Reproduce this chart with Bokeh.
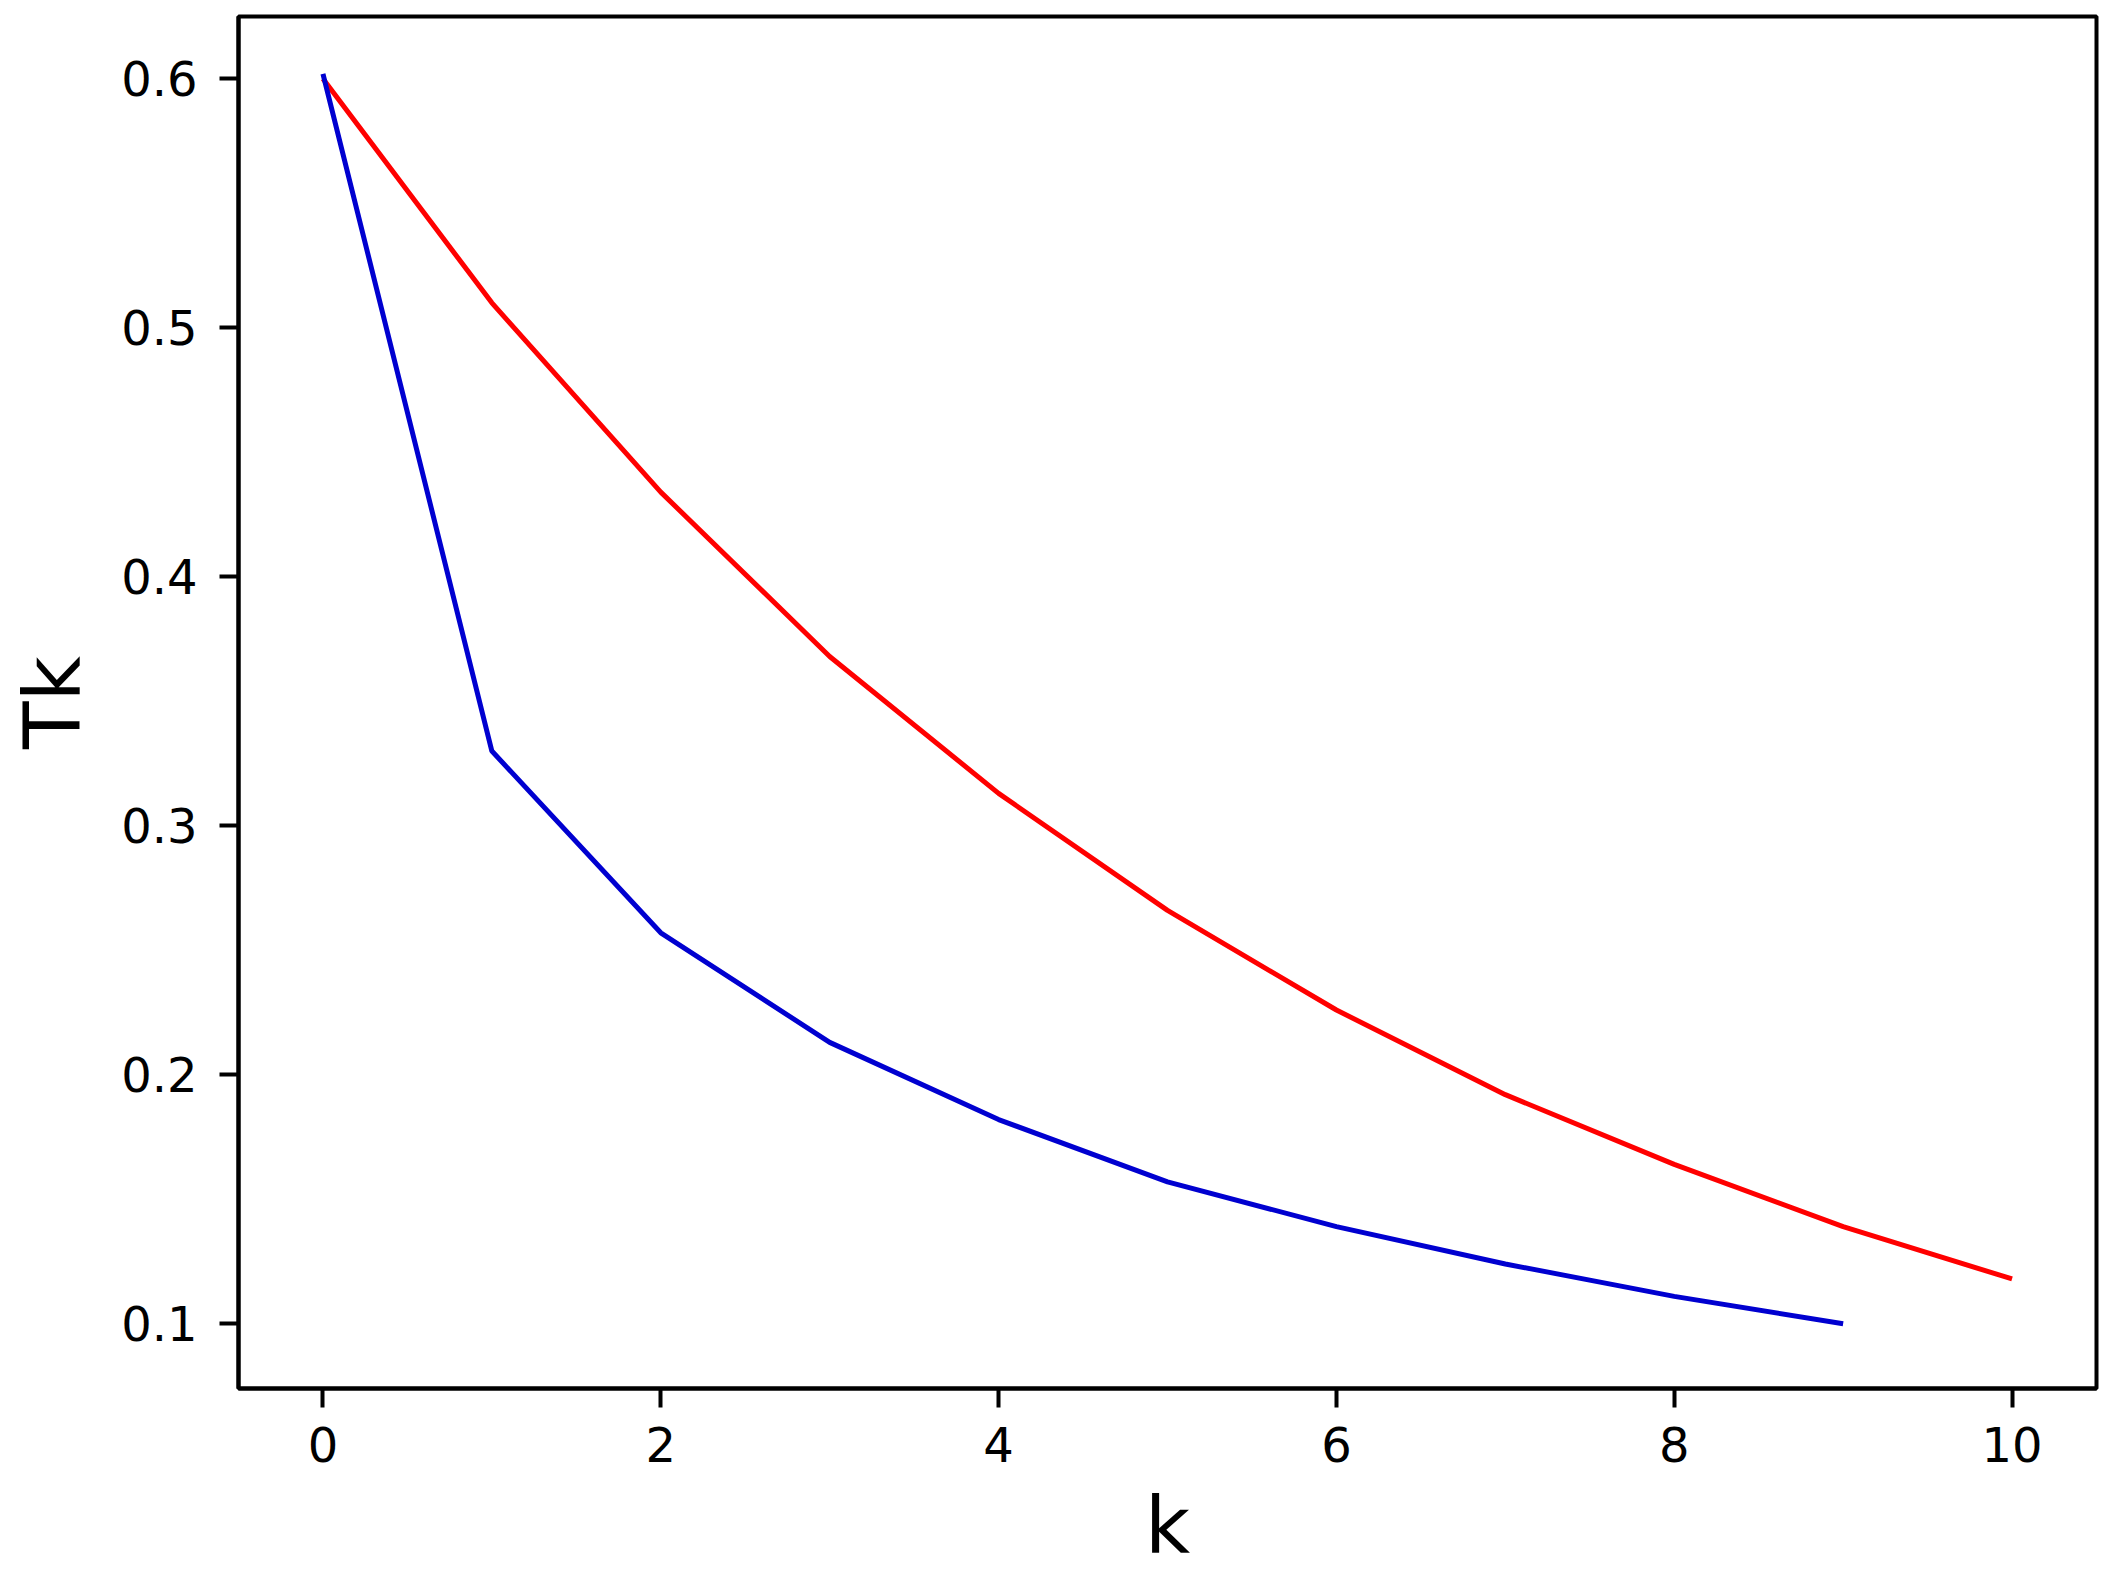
from bokeh.plotting import figure
from bokeh.models import Range1d, FixedTicker
from bokeh.embed import file_html
from bokeh.resources import INLINE

# Data
k_red = [0, 1, 2, 3, 4, 5, 6, 7, 8, 9, 10]
tk_red = [0.600, 0.510, 0.434, 0.368, 0.313, 0.266, 0.226, 0.192, 0.164, 0.139, 0.118]
k_blue = [0, 1, 2, 3, 4, 5, 6, 7, 8, 9]
tk_blue = [0.602, 0.330, 0.257, 0.213, 0.182, 0.157, 0.139, 0.124, 0.111, 0.100]
x_ticks = [0, 2, 4, 6, 8, 10]
y_ticks = [0.1, 0.2, 0.3, 0.4, 0.5, 0.6]

W, H = 2102, 1574
p = figure(width=W, height=H, output_backend="svg", toolbar_location=None,
           x_range=Range1d(-0.5, 10.5), y_range=Range1d(0.074, 0.625),
           min_border_left=238, min_border_right=6, min_border_top=16, min_border_bottom=186)

p.line(k_red, tk_red, line_color="#ff0000", line_width=5)
p.line(k_blue, tk_blue, line_color="#0000d0", line_width=5)

p.xgrid.visible = False
p.ygrid.visible = False
p.background_fill_color = "white"
p.border_fill_color = "white"
p.outline_line_color = "black"
p.outline_line_width = 4
p.outline_line_alpha = 1.0

p.xaxis.ticker = FixedTicker(ticks=x_ticks)
p.yaxis.ticker = FixedTicker(ticks=y_ticks)
p.xaxis.axis_label = "k"
p.yaxis.axis_label = "Tk"

for ax in (p.xaxis, p.yaxis):
    ax.axis_line_color = "black"
    ax.axis_line_width = 4
    ax.major_tick_line_color = "black"
    ax.major_tick_line_width = 4
    ax.major_tick_out = 19
    ax.major_tick_in = 0
    ax.minor_tick_line_color = None
    ax.major_label_text_font = "DejaVu Sans"
    ax.major_label_text_font_size = "48px"
    ax.major_label_text_color = "black"
    ax.axis_label_text_font = "DejaVu Sans"
    ax.axis_label_text_font_size = "78px"
    ax.axis_label_text_font_style = "normal"
    ax.axis_label_text_color = "black"

p.xaxis.major_label_standoff = 19
p.yaxis.major_label_standoff = 22
p.xaxis.axis_label_standoff = 16
p.yaxis.axis_label_standoff = 20

open("out.html", "w").write(file_html(p, INLINE))
